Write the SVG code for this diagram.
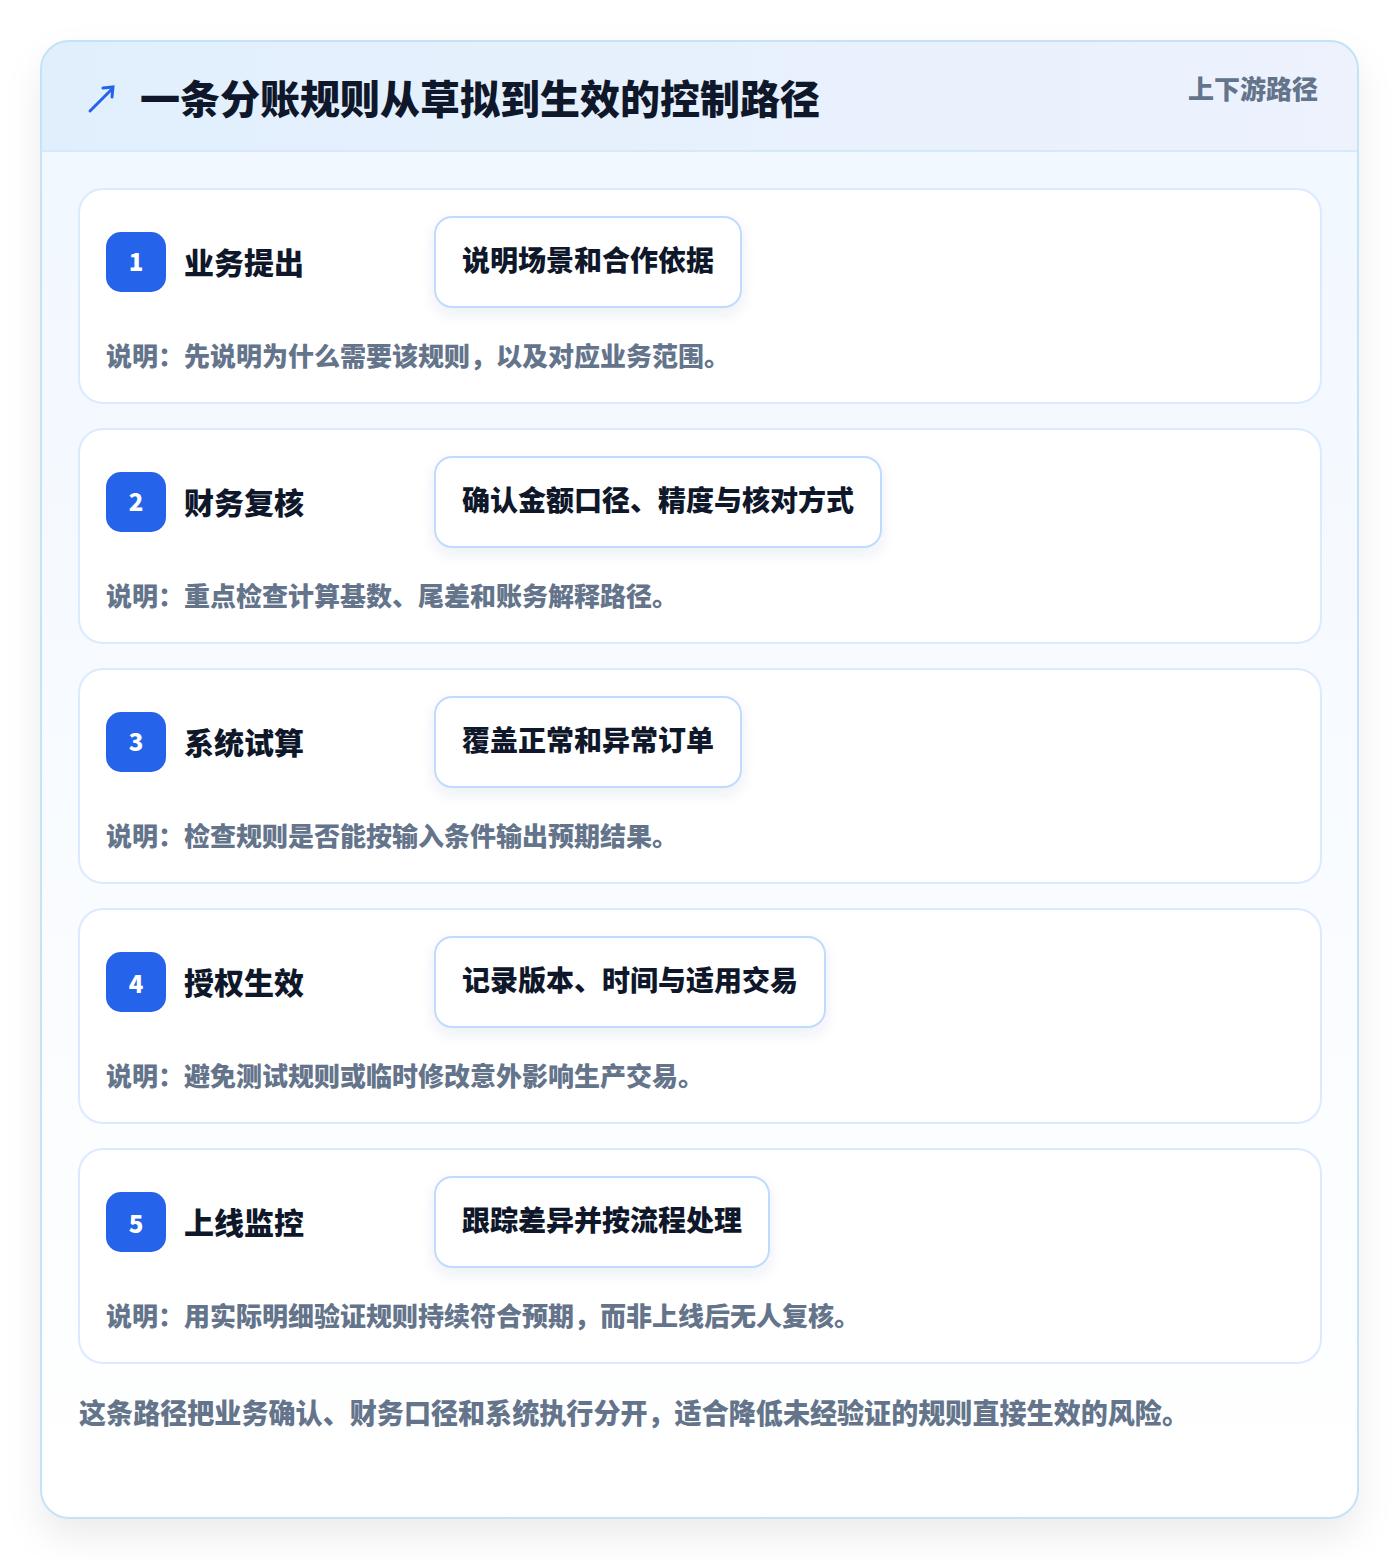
<svg xmlns="http://www.w3.org/2000/svg" width="1400" height="1560" viewBox="0 0 1400 1560">
<defs>
<linearGradient id="hdr" x1="0" y1="0" x2="1" y2="0"><stop offset="0" stop-color="#e1effd"/><stop offset="1" stop-color="#edf2fd"/></linearGradient>
<linearGradient id="body" x1="0" y1="0" x2="0" y2="1"><stop offset="0" stop-color="#f0f7ff"/><stop offset="0.5" stop-color="#f8fbff"/><stop offset="1" stop-color="#ffffff"/></linearGradient>
<filter id="sh" x="-10%" y="-10%" width="120%" height="125%"><feDropShadow dx="0" dy="18" stdDeviation="18" flood-color="#0f172a" flood-opacity="0.08"/></filter>
<filter id="psh" x="-10%" y="-20%" width="120%" height="160%"><feDropShadow dx="0" dy="6" stdDeviation="7" flood-color="#1e3a8a" flood-opacity="0.08"/></filter>
<clipPath id="cc"><rect x="41" y="41" width="1317" height="1477" rx="28"/></clipPath>
</defs>
<style>
text{font-family:"Noto Sans CJK SC","Noto Sans",sans-serif;font-weight:900}
.card{fill:#ffffff;stroke:#dbeafe;stroke-width:2}
.badge{fill:#2563eb}
.num{fill:#ffffff;font-size:24px;text-anchor:middle}
.ttl{fill:#0f172a;font-size:30px}
.pill{fill:#ffffff;stroke:#bfdbfe;stroke-width:2}
.ptxt{fill:#0f172a;font-size:28px}
.desc{fill:#64748b;font-size:26px}
</style>
<rect width="1400" height="1560" fill="#ffffff"/>
<g id="frame">
<rect x="41" y="41" width="1317" height="1477" rx="28" fill="url(#body)" filter="url(#sh)"/>
<g clip-path="url(#cc)">
<rect x="41" y="41" width="1317" height="110" fill="url(#hdr)"/>
<line x1="41" y1="151" x2="1358" y2="151" stroke="#d6e8fa" stroke-width="2"/>
</g>
<rect x="41" y="41" width="1317" height="1477" rx="28" fill="none" stroke="#c4e3f7" stroke-width="2"/>
</g>
<g id="header">
<g stroke="#2563eb" stroke-width="3" stroke-linecap="round" fill="none">
<line x1="90" y1="111" x2="112" y2="89"/>
<polyline points="103,88 113,87 112,97"/>
</g>
<text x="140" y="114" font-size="40" fill="#0f172a">一条分账规则从草拟到生效的控制路径</text>
<text x="1318" y="99" font-size="26" fill="#64748b" text-anchor="end">上下游路径</text>
</g>
<g id="step1">
<rect class="card" x="79" y="189" width="1242" height="214" rx="24"/>
<rect class="badge" x="106" y="232" width="60" height="60" rx="15"/>
<text class="num" x="136" y="271">1</text>
<text class="ttl" x="184" y="274">业务提出</text>
<rect class="pill" x="435" y="217" width="306" height="90" rx="17" filter="url(#psh)"/>
<text class="ptxt" x="462" y="271">说明场景和合作依据</text>
<text class="desc" x="106" y="366">说明：先说明为什么需要该规则，以及对应业务范围。</text>
</g>
<g id="step2">
<rect class="card" x="79" y="429" width="1242" height="214" rx="24"/>
<rect class="badge" x="106" y="472" width="60" height="60" rx="15"/>
<text class="num" x="136" y="511">2</text>
<text class="ttl" x="184" y="514">财务复核</text>
<rect class="pill" x="435" y="457" width="446" height="90" rx="17" filter="url(#psh)"/>
<text class="ptxt" x="462" y="511">确认金额口径、精度与核对方式</text>
<text class="desc" x="106" y="606">说明：重点检查计算基数、尾差和账务解释路径。</text>
</g>
<g id="step3">
<rect class="card" x="79" y="669" width="1242" height="214" rx="24"/>
<rect class="badge" x="106" y="712" width="60" height="60" rx="15"/>
<text class="num" x="136" y="751">3</text>
<text class="ttl" x="184" y="754">系统试算</text>
<rect class="pill" x="435" y="697" width="306" height="90" rx="17" filter="url(#psh)"/>
<text class="ptxt" x="462" y="751">覆盖正常和异常订单</text>
<text class="desc" x="106" y="846">说明：检查规则是否能按输入条件输出预期结果。</text>
</g>
<g id="step4">
<rect class="card" x="79" y="909" width="1242" height="214" rx="24"/>
<rect class="badge" x="106" y="952" width="60" height="60" rx="15"/>
<text class="num" x="136" y="993">4</text>
<text class="ttl" x="184" y="994">授权生效</text>
<rect class="pill" x="435" y="937" width="390" height="90" rx="17" filter="url(#psh)"/>
<text class="ptxt" x="462" y="991">记录版本、时间与适用交易</text>
<text class="desc" x="106" y="1086">说明：避免测试规则或临时修改意外影响生产交易。</text>
</g>
<g id="step5">
<rect class="card" x="79" y="1149" width="1242" height="214" rx="24"/>
<rect class="badge" x="106" y="1192" width="60" height="60" rx="15"/>
<text class="num" x="136" y="1233">5</text>
<text class="ttl" x="184" y="1234">上线监控</text>
<rect class="pill" x="435" y="1177" width="334" height="90" rx="17" filter="url(#psh)"/>
<text class="ptxt" x="462" y="1231">跟踪差异并按流程处理</text>
<text class="desc" x="106" y="1326">说明：用实际明细验证规则持续符合预期，而非上线后无人复核。</text>
</g>
<g id="connectors"></g>
<text x="79" y="1424" font-size="28" fill="#64748b" textLength="1110" lengthAdjust="spacingAndGlyphs">这条路径把业务确认、财务口径和系统执行分开，适合降低未经验证的规则直接生效的风险。</text>
</svg>
